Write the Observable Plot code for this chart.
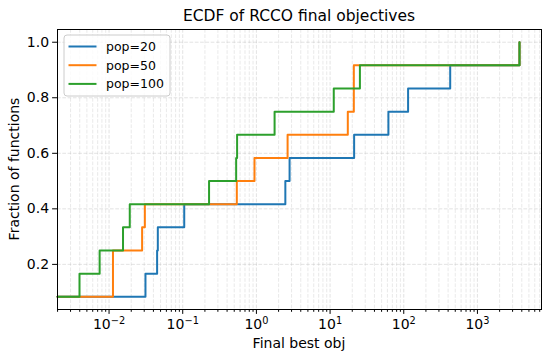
<!DOCTYPE html>
<html>
<head>
<meta charset="utf-8">
<script src="https://cdn.jsdelivr.net/npm/d3@7"></script>
<script src="https://cdn.jsdelivr.net/npm/@observablehq/plot@0.6"></script>
<style>
  html, body { margin: 0; padding: 0; background: white; }
  #chart { width: 550px; height: 356px; }
  #chart svg text { font-family: "DejaVu Sans", sans-serif; }
</style>
</head>
<body>
<div id="chart"></div>
<script>
// ---- data ----
const title = "ECDF of RCCO final objectives";
const xLabel = "Final best obj";
const yLabel = "Fraction of functions";
const series = ["pop=20", "pop=50", "pop=100"];
const colors = ["#1f77b4", "#ff7f0e", "#2ca02c"];
const pop20  = [0, 0.0312, 0.0449, 0.0459, 0.1048, 2.47, 2.82, 21.2, 61.9, 114.5, 427, 3724];
const pop50  = [0, 0.0113, 0.0113, 0.0281, 0.0306, 0.542, 0.942, 2.65, 17.4, 21.0, 21.0, 3724];
const pop100 = [0, 0.00397, 0.00745, 0.01547, 0.0191, 0.2277, 0.531, 0.547, 1.765, 11.22, 25.4, 3724];
const xMajorTicks = [1e-2, 1e-1, 1, 10, 100, 1000];
const yTicks = [0.2, 0.4, 0.6, 0.8, 1.0];

// ---- scale domains (matplotlib-style 5% margins) ----
const allVals = [pop20, pop50, pop100].flat();
const pos = allVals.filter(v => v > 0);
const lmin = Math.log10(d3.min(pos)), lmax = Math.log10(d3.max(pos));
const lpad = (lmax - lmin) * 0.05;
const xDomain = [Math.pow(10, lmin - lpad), Math.pow(10, lmax + lpad)];
const n = pop20.length;
const ypad = (1 - 1 / n) * 0.05;
const yDomain = [1 / n - ypad, 1 + ypad];

const xMinorTicks = [];
for (let e = -4; e <= 4; e++) for (let m = 2; m <= 9; m++) {
  const v = m * Math.pow(10, e);
  if (v >= xDomain[0] && v <= xDomain[1]) xMinorTicks.push(v);
}

// ---- ECDF rows ----
const rows = [];
[pop20, pop50, pop100].forEach((vals, k) => {
  vals.slice().sort((a, b) => a - b).forEach((v, i) => {
    rows.push({series: series[k], x: v > 0 ? v : xDomain[0], y: (i + 1) / n});
  });
});

const gridStyle = {stroke: "#b0b0b0", strokeOpacity: 0.45, strokeDasharray: "3.7,1.6", strokeWidth: 0.8};
const FS = 14;
const LFS = 12.5;
const LW = 2;

const W = 550, H = 356, mL = 57, mR = 9, mT = 29, mB = 47;
const chart = Plot.plot({
  width: W, height: H,
  marginLeft: mL, marginRight: mR, marginTop: mT, marginBottom: mB,
  style: {fontFamily: "DejaVu Sans", fontSize: FS + "px", background: "white", color: "black", overflow: "visible"},
  x: {type: "log", domain: xDomain},
  y: {domain: yDomain},
  color: {domain: series, range: colors},
  marks: [
    Plot.gridX(xMinorTicks, {...gridStyle, strokeOpacity: 0.35}),
    Plot.gridX(xMajorTicks, gridStyle),
    Plot.gridY(yTicks, gridStyle),
    Plot.line(rows, {x: "x", y: "y", stroke: "series", curve: "step-after", strokeWidth: LW}),
    Plot.frame({stroke: "black", strokeWidth: 1}),
    Plot.axisX(xMinorTicks, {tickSize: 2.8, tickFormat: () => "", label: null}),
    Plot.axisX(xMajorTicks, {tickSize: 4.9, tickPadding: 4.5, tickFormat: d => "10^" + Math.round(Math.log10(d)), label: null}),
    Plot.axisY(yTicks, {tickSize: 4.9, tickPadding: 3.5, tickFormat: d3.format(".1f"), label: null})
  ]
});
document.getElementById("chart").appendChild(chart);

const svg = d3.select(chart);
svg.selectAll("text").attr("font-size", FS);
// superscript exponents
svg.selectAll("text").each(function() {
  const t = this.textContent;
  const m = /^10\^(-?\d+)$/.exec(t);
  if (m) {
    const el = d3.select(this);
    el.text("10");
    el.append("tspan").attr("dy", "-0.5em").attr("font-size", "70%").text(m[1].replace("-", "\u2212"));
  }
});

const cx = mL + (W - mL - mR) / 2;
const cy = mT + (H - mT - mB) / 2;
svg.append("text").attr("x", cx).attr("y", 21).attr("text-anchor", "middle")
  .attr("font-size", 15.5).attr("fill", "black").text(title);
svg.append("text").attr("x", cx).attr("y", 348).attr("text-anchor", "middle")
  .attr("font-size", FS).attr("fill", "black").text(xLabel);
svg.append("text").attr("transform", `translate(18.5,${cy}) rotate(-90)`).attr("text-anchor", "middle")
  .attr("font-size", FS).attr("fill", "black").text(yLabel);

// legend
const lg = svg.append("g");
lg.append("rect").attr("x", 64).attr("y", 35).attr("width", 106).attr("height", 61)
  .attr("rx", 3).attr("fill", "white").attr("fill-opacity", 0.8).attr("stroke", "#cccccc").attr("stroke-width", 1);
series.forEach((s, i) => {
  const y = 46.5 + i * 18.7;
  lg.append("line").attr("x1", 68.5).attr("x2", 96.5).attr("y1", y).attr("y2", y)
    .attr("stroke", colors[i]).attr("stroke-width", LW);
  lg.append("text").attr("x", 106).attr("y", y).attr("dy", "0.36em").attr("text-anchor", "start")
    .attr("font-size", LFS).attr("fill", "black").text(s);
});
</script>
</body>
</html>
